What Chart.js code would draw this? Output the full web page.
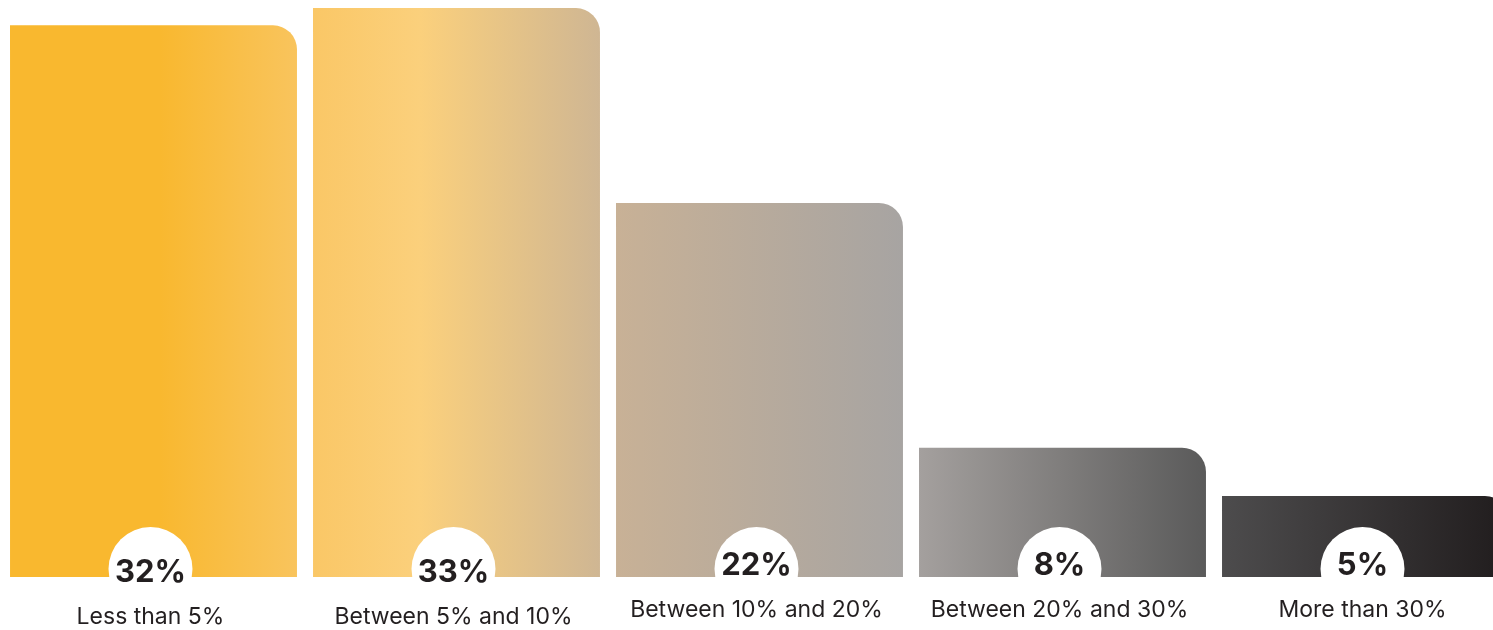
<!DOCTYPE html>
<html>
<head>
  <title>Share by range</title>
  <meta charset="utf-8">
  <script src="https://cdn.jsdelivr.net/npm/chart.js"></script>
  <style>
    html, body { margin: 0; padding: 0; background: #fff; overflow: hidden; }
    #rangeChart { display: block; }
  </style>
</head>
<body>
  <canvas id="rangeChart" width="1520" height="630"></canvas>

  <script>
    // data
    const categories = ['Less than 5%', 'Between 5% and 10%', 'Between 10% and 20%', 'Between 20% and 30%', 'More than 30%'];
    const shares = [32, 33, 21.7, 7.5, 4.7];
    const shareLabels = ['32%', '33%', '22%', '8%', '5%'];

    const ink = '#231f20';

    // one horizontal gradient running across all bars
    function barGradient(context) {
      const chart = context.chart;
      const area = chart.chartArea;
      if (!area) return '#f9b82f';
      const c = chart.ctx;
      const g = c.createLinearGradient(0, 0, chart.width, 0);
      const w = chart.width;
      const stops = [
        [10, '#f9b82f'], [160, '#f9b82f'], [297, '#f9c45d'],
        [313, '#fac766'], [420, '#fbd07c'], [600, '#cfb693'],
        [616, '#c8b196'], [903, '#a7a4a2'],
        [919, '#a4a09e'], [1206, '#5a5a5a'],
        [1222, '#4d4c4d'], [1493, '#231f20']
      ];
      stops.forEach(s => g.addColorStop(s[0] / w, s[1]));
      return g;
    }

    // white circles with the value, and category names under the bars
    const bubbleLabels = {
      id: 'bubbleLabels',
      afterDatasetsDraw(chart) {
        const c = chart.ctx;
        const meta = chart.getDatasetMeta(0);
        const bottom = chart.scales.y.getPixelForValue(0);
        c.save();
        meta.data.forEach((bar, i) => {
          const lift = i < 2 ? 0 : 7;
          const x = bar.x - 3;
          c.beginPath();
          c.arc(x, bottom - 8, 42, 0, Math.PI * 2);
          c.fillStyle = '#ffffff';
          c.fill();

          c.fillStyle = ink;
          c.textAlign = 'center';
          c.textBaseline = 'middle';
          c.font = 'bold 31px Inter, "Noto Sans", sans-serif';
          c.fillText(shareLabels[i], x, bottom - 4 - lift);

          c.font = '23px Inter, "Noto Sans", sans-serif';
          c.fillText(categories[i], x, bottom + 40 - lift);
        });
        c.restore();
      }
    };

    const ctx = document.getElementById('rangeChart').getContext('2d');
    new Chart(ctx, {
      type: 'bar',
      data: {
        labels: categories,
        datasets: [{
          data: shares,
          backgroundColor: barGradient,
          borderWidth: 0,
          borderRadius: { topLeft: 0, topRight: 24, bottomLeft: 0, bottomRight: 0 },
          borderSkipped: 'start',
          categoryPercentage: 1,
          barPercentage: 0.947
        }]
      },
      options: {
        responsive: false,
        animation: false,
        layout: { padding: { left: 2, right: 3, top: 0, bottom: 53 } },
        plugins: {
          legend: { display: false },
          tooltip: { enabled: false }
        },
        scales: {
          x: { display: false },
          y: { display: false, min: 0, max: 33.47 }
        }
      },
      plugins: [bubbleLabels]
    });
  </script>
</body>
</html>
